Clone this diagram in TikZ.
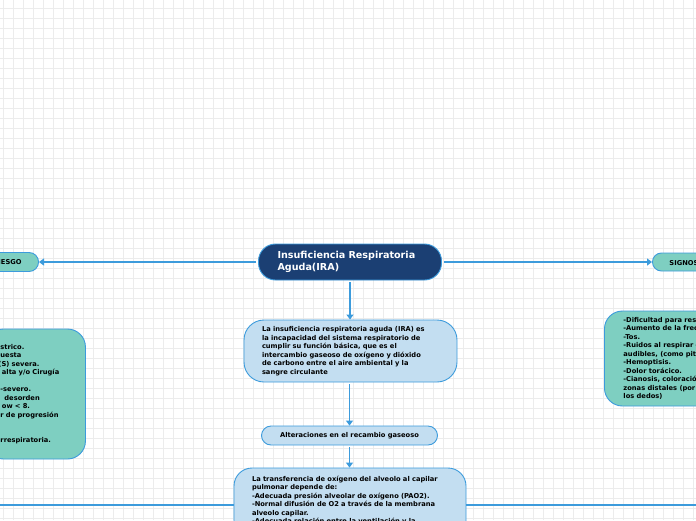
\documentclass[tikz,border=0pt]{standalone}
\usepackage{fontspec}
\setmainfont{DejaVu Sans}
\usetikzlibrary{arrows.meta}
\definecolor{dkblue}{HTML}{1B3F73}
\definecolor{lnblue}{HTML}{3C9BDC}
\definecolor{ltblue}{HTML}{C3DEF1}
\definecolor{tealbox}{HTML}{7ECFC1}
\definecolor{gridc}{HTML}{ECECEC}
\begin{document}
\begin{tikzpicture}[x=1pt,y=-1pt,
  box/.style={draw=lnblue, line width=0.9pt, inner ysep=0pt,
    font=\bfseries\fontsize{6.7}{8.5}\selectfont},
  conn/.style={draw=lnblue, line width=1.4pt, shorten <=2pt,
    -{Triangle[length=5pt,width=7pt]}},
  plainline/.style={draw=lnblue, line width=1.4pt}]
\useasboundingbox (0,0) rectangle (696,520);
\fill[white] (0,0) rectangle (696,520);
\foreach \i in {3,13,...,693} \draw[gridc, line width=1pt] (\i,0) -- (\i,520);
\foreach \j in {8,18,...,518} \draw[gridc, line width=1pt] (0,\j) -- (696,\j);

% main
\node[box, fill=dkblue, text=white, font=\bfseries\fontsize{9.6}{12}\selectfont,
  rounded corners=17pt, minimum height=36pt, text width=145pt, inner xsep=19pt,
  align=left] (main) at (350,262) {Insuficiencia Respiratoria\\Aguda(IRA)};

% small side boxes
\node[box, fill=tealbox, rounded corners=9.5pt, minimum height=19pt, inner xsep=17pt,
  anchor=east] (risk) at (39,262) {FACTORES DE RIESGO};
\node[box, fill=tealbox, rounded corners=9pt, minimum height=18pt, inner xsep=17pt,
  anchor=west] (signs) at (652,262) {SIGNOS Y SÍNTOMAS};

% definition
\node[box, fill=ltblue, rounded corners=20pt, minimum height=62pt, text width=177pt,
  inner xsep=18pt, align=left] (desc) at (350.5,351)
  {La insuficiencia respiratoria aguda (IRA) es\\
   la incapacidad del sistema respiratorio de\\
   cumplir su función básica, que es el\\
   intercambio gaseoso de oxígeno y dióxido\\
   de carbono entre el aire ambiental y la\\
   sangre circulante};

% alteraciones
\node[box, fill=ltblue, rounded corners=9.5pt, minimum height=19pt, minimum width=176pt,
  align=center] (alt) at (349.5,435.5) {Alteraciones en el recambio gaseoso};

% bottom box
\node[box, fill=ltblue, rounded corners=18pt, minimum height=74pt, text width=196pt,
  inner xsep=18pt, align=left] (bot) at (350,505)
  {La transferencia de oxígeno del alveolo al capilar\\
   pulmonar depende de:\\
   -Adecuada presión alveolar de oxígeno (PAO2).\\
   -Normal difusión de O2 a través de la membrana\\
   alveolo capilar.\\
   -Adecuada relación entre la ventilación y la\\
   perfusión.};

% left risk factor box (clipped)
\node[box, fill=tealbox, rounded corners=18pt, minimum height=130pt, text width=70pt,
  inner xsep=15pt, align=left, anchor=west] (riskbox) at (-15,394)
  {strico.\\
   uesta\\
   \hspace*{-2pt}(S) severa.\\
   \hspace*{1.5pt}alta y/o Cirugía\\
   \mbox{}\\
   -severo.\\
   \hspace*{4pt}desorden\\
   \hspace*{1.5pt}ow < 8.\\
   r de progresión\\
   \mbox{}\\
   \mbox{}\\
   rrespiratoria.};

% right signs box (clipped)
\node[box, fill=tealbox, rounded corners=18pt, minimum height=95pt,
  inner xsep=19pt, align=left, anchor=west] (signbox) at (604,358.5)
  {-Dificultad para respirar.\\
   -Aumento de la frecuencia respiratoria.\\
   -Tos.\\
   -Ruidos al respirar que pueden ser\\
   audibles, (como pitidos).\\
   -Hemoptisis.\\
   -Dolor torácico.\\
   -Cianosis, coloración azulada de las\\
   zonas distales (por ejemplo la punta de\\
   los dedos)};

% connectors
\draw[conn] (main.west) -- (risk.east);
\draw[conn] (main.east) -- (signs.west);
\draw[conn] (main.south) -- (main.south |- desc.north);
\draw[conn] (desc.south -| alt.north) -- (alt.north);
\draw[conn] (alt.south) -- (alt.south |- bot.north);
\coordinate (offL) at (-10,505);
\coordinate (offR) at (706,505);
\draw[plainline] (bot.west) -- (offL);
\draw[plainline] (bot.east) -- (offR);
\end{tikzpicture}
\end{document}
